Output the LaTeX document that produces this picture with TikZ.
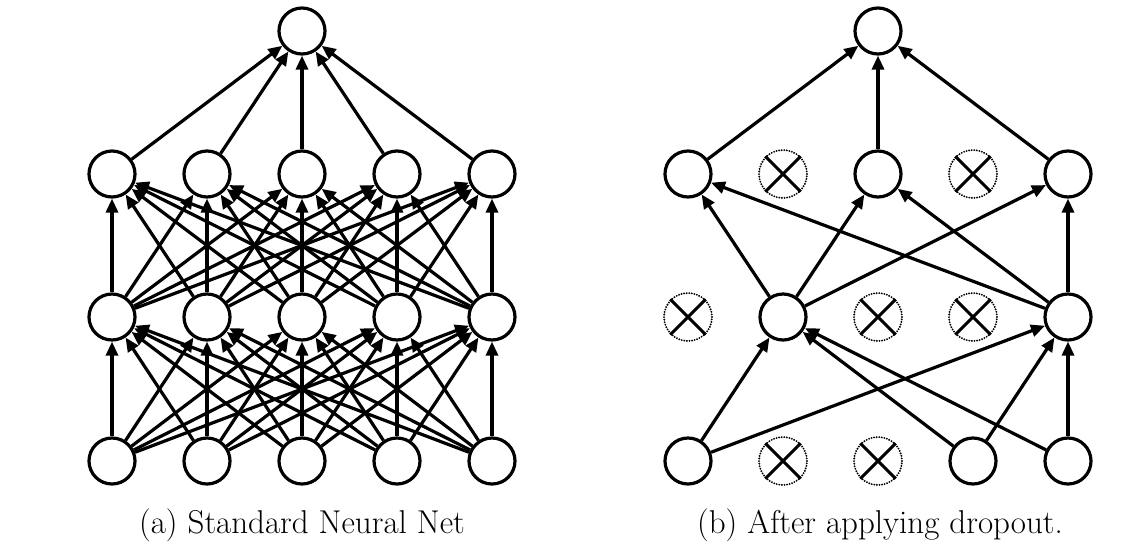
\documentclass[tikz,border=0pt]{standalone}
\usetikzlibrary{arrows.meta}
\begin{document}
\begin{tikzpicture}[x=1pt,y=-1pt,
  neuron/.style={circle,draw,line width=3.2pt,minimum size=46pt,inner sep=0pt},
  dropped/.style={circle,draw,line width=2.1pt,line cap=round,dash pattern=on 0pt off 2.6pt,minimum size=48pt,inner sep=0pt},
  xline/.style={line width=3pt},
  conn/.style={line width=3.2pt,-{Triangle[length=14pt,width=12pt]}},
  captext/.style={font=\fontsize{33}{40}\selectfont,anchor=base,inner sep=0pt}]
\useasboundingbox (0,0) rectangle (1141,558);
% ---------- (a) standard net ----------
\foreach \i/\x in {1/112,2/207,3/302,4/397,5/492}{
  \node[neuron] (a1\i) at (\x,461) {};
  \node[neuron] (a2\i) at (\x,317) {};
  \node[neuron] (a3\i) at (\x,174) {};
}
\node[neuron] (atop) at (302,31) {};
\foreach \i in {1,...,5}{
  \foreach \j in {1,...,5}{
    \draw[conn] (a1\i) -- (a2\j);
    \draw[conn] (a2\i) -- (a3\j);
  }
  \draw[conn] (a3\i) -- (atop);
}
% ---------- (b) dropout net ----------
\node[neuron] (b11) at (688,461) {};
\node[dropped] (b12) at (783,461) {};
\node[dropped] (b13) at (878,461) {};
\node[neuron] (b14) at (973,461) {};
\node[neuron] (b15) at (1068,461) {};
\node[dropped] (b21) at (688,317) {};
\node[neuron] (b22) at (783,317) {};
\node[dropped] (b23) at (878,317) {};
\node[dropped] (b24) at (973,317) {};
\node[neuron] (b25) at (1068,317) {};
\node[neuron] (b31) at (688,174) {};
\node[dropped] (b32) at (783,174) {};
\node[neuron] (b33) at (878,174) {};
\node[dropped] (b34) at (973,174) {};
\node[neuron] (b35) at (1068,174) {};
\node[neuron] (btop) at (878,31) {};
\foreach \n in {b12,b13,b21,b23,b24,b32,b34}{
  \draw[xline] (\n.45) -- (\n.225);
  \draw[xline] (\n.135) -- (\n.315);
}
\foreach \s/\t in {b11/b22,b11/b25,b14/b22,b15/b22,b14/b25,b15/b25,
                   b22/b31,b22/b33,b22/b35,b25/b31,b25/b33,b25/b35,
                   b31/btop,b33/btop,b35/btop}{
  \draw[conn] (\s) -- (\t);
}
% ---------- captions ----------
\node[captext] (capa) at (302,533) {(a) Standard Neural Net};
\node[captext] (capb) at (880,533) {(b) After applying dropout.};
\end{tikzpicture}
\end{document}
